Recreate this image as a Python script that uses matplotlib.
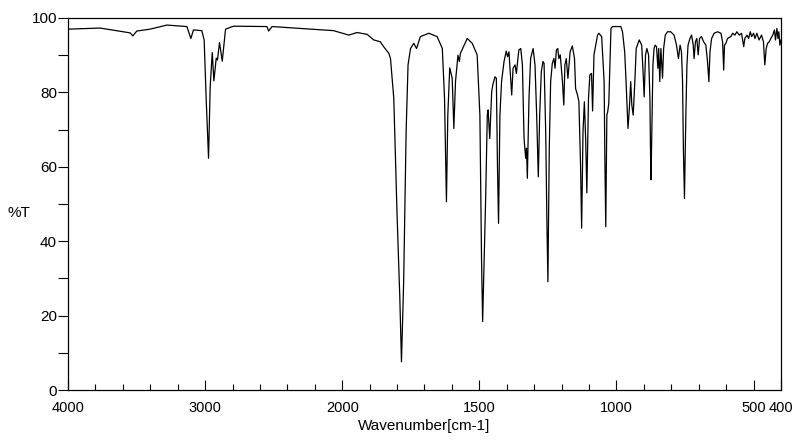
import numpy as np
import matplotlib
matplotlib.use('Agg')
import matplotlib.pyplot as plt
from matplotlib.ticker import FixedLocator, MultipleLocator

# espectro IV (numero de onda, %T)
wn_alto = [4000, 3766, 3598, 3547, 3527, 3498, 3401, 3279, 3133, 3104, 3085, 3024,
           3007, 2992, 2975, 2963, 2948, 2936, 2919, 2910, 2895, 2875, 2851, 2793,
           2549, 2537, 2512, 2306, 2063]
t_alto = [97.0, 97.3, 96.3, 96.0, 95.2, 96.5, 97.0, 98.1, 97.7, 94.5, 96.8, 96.6,
          94.1, 78.0, 62.3, 81.5, 90.7, 83.1, 89.2, 88.7, 93.4, 88.4, 97.0, 97.8,
          97.7, 96.5, 97.7, 97.2, 96.6]

wn_medio = [1976, 1946, 1909, 1885, 1861, 1849, 1830, 1824, 1812, 1800, 1790, 1784,
            1776, 1767, 1760, 1751, 1739, 1729, 1715, 1684, 1654, 1635, 1627, 1620,
            1615, 1608, 1599, 1593, 1587, 1578, 1573, 1569, 1544, 1526, 1508, 1498,
            1492, 1488, 1477, 1471, 1468, 1462, 1455, 1451, 1443, 1438, 1434, 1430,
            1425, 1419, 1410, 1402, 1397, 1392, 1382, 1377, 1370, 1365, 1356, 1349,
            1343, 1337, 1331, 1328, 1325, 1319, 1313, 1304, 1297, 1291, 1285, 1280,
            1274, 1268, 1264, 1258, 1254, 1250, 1245, 1240, 1234, 1228, 1224, 1219,
            1214, 1210, 1205, 1197, 1192, 1188, 1183, 1177, 1169, 1161, 1153, 1149,
            1142, 1137, 1131, 1127, 1122, 1117, 1112, 1108, 1102, 1097, 1091, 1087,
            1082, 1069, 1064, 1054, 1045, 1042, 1039, 1035, 1032, 1028, 1024, 1020,
            1015, 997]
t_medio = [95.4, 96.1, 95.6, 94.1, 93.6, 92.3, 90.5, 89.1, 78.4, 47.0, 24.7, 7.6,
           29.1, 69.4, 87.4, 91.8, 93.2, 91.8, 95.0, 95.9, 95.0, 91.8, 78.4, 50.6,
           73.9, 86.6, 83.8, 70.3, 82.9, 90.0, 88.3, 90.5, 94.5, 93.2, 90.1, 73.9,
           35.0, 18.4, 51.5, 73.9, 75.3, 67.6, 80.2, 82.0, 84.2, 83.8, 60.5, 44.8,
           73.9, 82.9, 88.3, 91.1, 89.6, 90.9, 79.3, 86.5, 87.4, 85.1, 91.4, 91.8,
           87.4, 67.6, 62.3, 65.0, 56.9, 78.4, 89.1, 91.8, 87.4, 73.9, 57.3, 73.9,
           85.6, 88.3, 87.8, 69.4, 47.0, 29.1, 65.0, 82.9, 87.8, 89.1, 86.5, 91.4,
           91.8, 89.1, 90.1, 82.9, 76.6, 87.4, 89.1, 83.8, 90.9, 92.5, 89.1, 81.0,
           79.3, 77.5, 60.5, 43.5, 69.4, 77.5, 66.7, 53.0, 78.4, 84.7, 85.1, 75.0,
           90.1, 95.4, 95.9, 95.0, 82.9, 60.5, 43.9, 73.9, 74.8, 77.0, 87.4, 97.2,
           97.7, 97.7]

wn_baixo = [984, 978, 970, 965, 958, 953, 948, 944, 939, 933, 928, 917, 908, 903,
            899, 894, 889, 883, 878, 876, 874, 870, 867, 863, 859, 854, 849, 846,
            842, 838, 832, 828, 822, 814, 802, 790, 781, 774, 768, 763, 759, 756,
            752, 747, 743, 739, 732, 726, 720, 717, 712, 707, 702, 697, 690, 682,
            674, 668, 663, 659, 653, 644, 631, 619, 613, 609, 606, 601, 595, 583,
            576, 568, 561, 552, 544, 536, 532, 524, 518, 512, 507, 500, 495, 488,
            480, 471, 464, 459, 454, 449, 443, 437, 430, 424, 420, 415, 411, 408,
            404, 400]
t_baixo = [97.7, 96.3, 90.9, 82.9, 70.3, 75.7, 82.9, 76.6, 73.9, 82.9, 91.8, 94.1,
           92.7, 85.6, 78.8, 90.1, 91.8, 90.1, 78.4, 65.0, 56.5, 73.9, 87.4, 91.8,
           92.7, 92.3, 86.5, 91.8, 82.9, 91.8, 83.8, 91.8, 95.4, 96.3, 96.3, 95.4,
           92.7, 89.1, 92.7, 90.9, 82.9, 65.0, 51.5, 73.9, 87.4, 92.7, 94.5, 95.4,
           92.7, 89.1, 93.6, 94.5, 90.1, 94.5, 95.0, 93.6, 92.7, 88.3, 82.9, 90.9,
           94.5, 95.9, 96.3, 95.9, 93.6, 86.0, 92.7, 93.2, 94.5, 95.0, 95.9, 95.4,
           96.3, 95.4, 95.9, 92.3, 94.5, 95.4, 94.5, 96.3, 95.0, 95.9, 94.5, 95.9,
           94.1, 95.4, 93.6, 87.4, 91.8, 93.2, 93.6, 94.5, 95.4, 96.8, 94.1, 97.2,
           94.5, 96.3, 92.7, 94.1]

wn = np.array(wn_alto + wn_medio + wn_baixo, dtype=float)
trans = np.array(t_alto + t_medio + t_baixo)

xticks_lab = [4000, 3000, 2000, 1500, 1000, 500, 400]


# eixo x comprimido acima de 2000 cm-1
def fwd(w):
    w = np.asarray(w, dtype=float)
    return np.where(w >= 2000, 2000 + (w - 2000) / 2, w)


def inv(u):
    u = np.asarray(u, dtype=float)
    return np.where(u >= 2000, 2000 + (u - 2000) * 2, u)


plt.rcParams['font.family'] = ['Liberation Sans', 'DejaVu Sans']

fig = plt.figure(figsize=(8, 4.41), dpi=100)
fig.patch.set_facecolor('white')
ax = fig.add_axes([68 / 800, 51 / 441, 713 / 800, 372 / 441])

ax.plot(wn, trans, color='black', lw=0.9)

ax.set_xscale('function', functions=(fwd, inv))
ax.set_xlim(4000, 400)
ax.set_ylim(0, 100)

minor_x = list(range(4000, 2000, -200)) + list(range(2000, 399, -100))
ax.xaxis.set_major_locator(FixedLocator(xticks_lab))
ax.xaxis.set_minor_locator(FixedLocator(minor_x))
ax.set_xticklabels([str(v) for v in xticks_lab])
ax.yaxis.set_major_locator(MultipleLocator(20))
ax.yaxis.set_minor_locator(MultipleLocator(10))

ax.tick_params(axis='x', which='major', direction='in', length=7, width=0.8,
               labelsize=10.5, pad=8)
ax.tick_params(axis='x', which='minor', direction='in', length=4, width=0.8)
ax.tick_params(axis='y', which='both', direction='out', length=7, width=0.8,
               labelsize=11, pad=1)
for s in ax.spines.values():
    s.set_linewidth(0.9)

ax.set_xlabel('Wavenumber[cm-1]', fontsize=11, labelpad=3)
ax.set_ylabel('%T', fontsize=11, rotation=0, ha='center', va='center')
ax.yaxis.set_label_coords(-0.069, 0.476)

fig.savefig('out.png', dpi=100)
